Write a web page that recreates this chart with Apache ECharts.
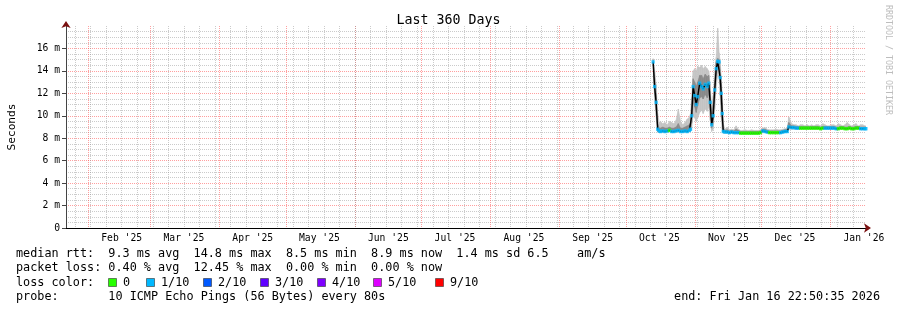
<!DOCTYPE html>
<html>
<head>
<meta charset="utf-8">
<script src="https://cdn.jsdelivr.net/npm/echarts@6/dist/echarts.min.js"></script>
<style>html,body{margin:0;padding:0;background:#fff}#chart{width:897px;height:310px}</style>
</head>
<body>
<div id="chart"></div>
<script>
const MONO = "'DejaVu Sans Mono', monospace";

const rangeStart = '2025-01-21 22:50:35';
const rangeEnd = '2026-01-16 22:50:35';
const firstWeek = '2025-01-26';

const monthStarts = ['2025-02-01', '2025-03-01', '2025-04-01', '2025-05-01', '2025-06-01', '2025-07-01',
  '2025-08-01', '2025-09-01', '2025-10-01', '2025-11-01', '2025-12-01', '2026-01-01'];
const monthMids = ['2025-02-16', '2025-03-16', '2025-04-16', '2025-05-16', '2025-06-16', '2025-07-16',
  '2025-08-16', '2025-09-16', '2025-10-16', '2025-11-16', '2025-12-16', '2026-01-16'];
const monthLabels = ["Feb '25", "Mar '25", "Apr '25", "May '25", "Jun '25", "Jul '25",
  "Aug '25", "Sep '25", "Oct '25", "Nov '25", "Dec '25", "Jan '26"];

// sample times (local)
const times = [
  '2025-10-13 04:00', '2025-10-13 20:00', '2025-10-14 12:00', '2025-10-15 05:00', '2025-10-15 21:00',
  '2025-10-16 12:00', '2025-10-17 12:00', '2025-10-18 12:00', '2025-10-19 12:00', '2025-10-20 12:00',
  '2025-10-21 12:00', '2025-10-22 12:00', '2025-10-23 12:00', '2025-10-24 12:00', '2025-10-25 12:00',
  '2025-10-26 12:00', '2025-10-27 12:00', '2025-10-28 12:00', '2025-10-29 12:00', '2025-10-30 00:00',
  '2025-10-30 12:00', '2025-10-31 04:00', '2025-10-31 21:00', '2025-11-01 13:00', '2025-11-02 05:00',
  '2025-11-03 03:00', '2025-11-04 00:00', '2025-11-04 16:00', '2025-11-05 14:00', '2025-11-06 12:00',
  '2025-11-07 04:00', '2025-11-07 20:00', '2025-11-08 12:00', '2025-11-09 04:00', '2025-11-09 21:00',
  '2025-11-10 13:00', '2025-11-11 05:00', '2025-11-11 21:00', '2025-11-12 08:00', '2025-11-12 19:00',
  '2025-11-13 06:00', '2025-11-13 17:00',
  '2025-11-14 12:00', '2025-11-15 12:00', '2025-11-16 12:00', '2025-11-17 12:00', '2025-11-18 12:00',
  '2025-11-19 12:00', '2025-11-20 12:00', '2025-11-21 12:00', '2025-11-22 12:00', '2025-11-23 12:00',
  '2025-11-24 12:00', '2025-11-25 12:00', '2025-11-26 12:00', '2025-11-27 12:00', '2025-11-28 12:00',
  '2025-11-29 12:00', '2025-11-30 12:00', '2025-12-01 12:00', '2025-12-02 12:00', '2025-12-03 12:00',
  '2025-12-04 12:00', '2025-12-05 12:00', '2025-12-06 12:00', '2025-12-07 12:00', '2025-12-08 12:00',
  '2025-12-09 12:00', '2025-12-10 12:00', '2025-12-11 12:00',
  '2025-12-12 12:00', '2025-12-13 05:00',
  '2025-12-14 12:00', '2025-12-15 12:00', '2025-12-16 12:00', '2025-12-17 12:00', '2025-12-18 12:00',
  '2025-12-19 12:00', '2025-12-20 12:00', '2025-12-21 12:00', '2025-12-22 12:00', '2025-12-23 12:00',
  '2025-12-24 12:00', '2025-12-25 12:00', '2025-12-26 12:00', '2025-12-27 12:00', '2025-12-28 12:00',
  '2025-12-29 12:00', '2025-12-30 12:00', '2025-12-31 12:00', '2026-01-01 12:00', '2026-01-02 12:00',
  '2026-01-03 12:00', '2026-01-04 12:00', '2026-01-05 12:00', '2026-01-06 12:00', '2026-01-07 12:00',
  '2026-01-08 12:00', '2026-01-09 12:00', '2026-01-10 12:00', '2026-01-11 12:00', '2026-01-12 12:00',
  '2026-01-13 12:00', '2026-01-14 12:00', '2026-01-15 12:00', '2026-01-16 12:00', '2026-01-16 22:00'
];

// median rtt in ms
const median = [
  14.8, 12.6, 11.2, 8.8, 8.65,
  8.6, 8.65, 8.6, 8.65, 8.7, 8.6, 8.6, 8.65, 8.7, 8.6, 8.6, 8.65, 8.6, 8.7, 8.8,
  10.0, 12.6, 11.8, 11.0, 11.7, 12.9, 12.6, 12.4, 12.8, 12.6, 12.9, 11.2, 9.2, 10.0, 12.3,
  14.2, 14.85, 14.8, 13.4, 12.0, 10.2, 8.6,
  8.55, 8.55, 8.5, 8.55, 8.5, 8.5, 8.5, 8.45, 8.45, 8.45, 8.45, 8.45, 8.45, 8.45, 8.45,
  8.45, 8.5, 8.65, 8.6, 8.55, 8.5, 8.5, 8.5, 8.5, 8.5, 8.5, 8.55, 8.6,
  8.6, 9.0,
  8.95, 8.95, 8.9, 8.9, 8.9, 8.9, 8.9, 8.9, 8.9, 8.9, 8.9, 8.9, 8.9, 8.85, 8.9,
  8.9, 8.9, 8.9, 8.9, 8.9, 8.85, 8.85, 8.9, 8.9, 8.85, 8.85, 8.9, 8.85, 8.85, 8.9,
  8.9, 8.85, 8.85, 8.85, 8.85
];

// lost pings out of 10, as index into lossLabels
const loss = [
  1, 1, 1, 1, 1,
  1, 1, 1, 1, 0, 1, 1, 1, 1, 1, 1, 1, 1, 1, 1,
  1, 1, 1, 1, 1, 1, 1, 1, 1, 1, 1, 1, 1, 1, 1,
  1, 1, 1, 1, 1, 1, 1,
  1, 1, 1, 1, 1, 1, 1, 0, 0, 0, 0, 0, 0, 0, 0,
  0, 0, 1, 1, 1, 0, 0, 0, 0, 0, 1, 1, 1,
  1, 1,
  1, 1, 1, 1, 0, 0, 0, 0, 0, 0, 0, 0, 0, 0, 0,
  1, 1, 1, 1, 1, 1, 0, 0, 0, 0, 0, 0, 0, 0, 0,
  0, 1, 1, 1, 1
];

// smoke: spread of the 10 pings
const smokeMin = [
  14.2, 11.5, 10.0, 8.55, 8.5,
  8.5, 8.5, 8.5, 8.5, 8.55, 8.5, 8.5, 8.5, 8.55, 8.5, 8.5, 8.5, 8.5, 8.55, 8.6,
  9.0, 10.0, 9.8, 9.5, 9.8, 10.3, 10.5, 10.2, 10.6, 10.4, 10.8, 9.6, 8.6, 8.8, 10.6,
  12.6, 13.6, 13.4, 11.8, 9.9, 8.8, 8.45,
  8.45, 8.45, 8.4, 8.45, 8.4, 8.4, 8.4, 8.35, 8.35, 8.35, 8.35, 8.35, 8.35, 8.35, 8.35,
  8.35, 8.4, 8.5, 8.5, 8.45, 8.4, 8.4, 8.4, 8.4, 8.4, 8.4, 8.45, 8.5,
  8.5, 8.8,
  8.8, 8.8, 8.8, 8.8, 8.8, 8.8, 8.8, 8.8, 8.8, 8.8, 8.8, 8.8, 8.8, 8.75, 8.8,
  8.8, 8.8, 8.8, 8.8, 8.8, 8.75, 8.75, 8.8, 8.8, 8.75, 8.75, 8.8, 8.75, 8.75, 8.8,
  8.8, 8.75, 8.75, 8.75, 8.75
];
const smokeLow = [
  14.5, 12.0, 10.5, 8.6, 8.55,
  8.55, 8.6, 8.55, 8.6, 8.65, 8.55, 8.55, 8.6, 8.65, 8.55, 8.55, 8.6, 8.55, 8.65, 8.7,
  9.4, 11.2, 10.8, 10.3, 10.9, 11.6, 11.7, 11.5, 11.9, 11.6, 11.9, 10.5, 8.9, 9.4, 11.6,
  13.6, 14.4, 14.2, 12.8, 11.0, 9.5, 8.5,
  8.5, 8.5, 8.45, 8.5, 8.45, 8.45, 8.45, 8.4, 8.4, 8.4, 8.4, 8.4, 8.4, 8.4, 8.4,
  8.4, 8.45, 8.6, 8.55, 8.5, 8.45, 8.45, 8.45, 8.45, 8.45, 8.45, 8.5, 8.55,
  8.55, 8.9,
  8.9, 8.9, 8.85, 8.85, 8.85, 8.85, 8.85, 8.85, 8.85, 8.85, 8.85, 8.85, 8.85, 8.8, 8.85,
  8.85, 8.85, 8.85, 8.85, 8.85, 8.8, 8.8, 8.85, 8.85, 8.8, 8.8, 8.85, 8.8, 8.8, 8.85,
  8.85, 8.8, 8.8, 8.8, 8.8
];
const smokeHigh = [
  15.0, 13.3, 12.0, 9.3, 8.9,
  8.9, 9.0, 8.9, 8.9, 9.0, 8.9, 8.9, 9.0, 9.3, 8.9, 8.9, 9.0, 9.1, 9.2, 9.4,
  10.9, 13.3, 13.0, 12.6, 13.0, 13.6, 13.6, 13.3, 13.7, 13.5, 13.6, 12.2, 9.9, 11.0, 13.1,
  14.8, 15.1, 15.0, 14.1, 12.9, 11.1, 8.9,
  8.7, 8.75, 8.65, 8.7, 8.65, 8.8, 8.7, 8.6, 8.6, 8.6, 8.6, 8.6, 8.6, 8.6, 8.6,
  8.6, 8.65, 8.8, 8.8, 8.7, 8.65, 8.65, 8.65, 8.65, 8.65, 8.65, 8.7, 8.75,
  8.8, 9.4,
  9.1, 9.1, 9.05, 9.05, 9.05, 9.05, 9.05, 9.05, 9.05, 9.05, 9.05, 9.05, 9.05, 9.0, 9.05,
  9.05, 9.05, 9.05, 9.05, 9.05, 9.0, 9.0, 9.05, 9.05, 9.0, 9.0, 9.05, 9.0, 9.0, 9.05,
  9.05, 9.0, 9.0, 9.0, 9.0
];
const smokeMax = [
  15.1, 14.0, 12.8, 10.2, 9.4,
  9.5, 9.3, 9.4, 9.2, 9.5, 9.4, 9.3, 9.6, 10.6, 9.5, 9.2, 9.4, 9.7, 9.9, 10.2,
  11.6, 14.0, 14.2, 14.0, 14.4, 14.3, 14.5, 14.2, 14.4, 14.2, 14.0, 12.8, 10.5, 11.8, 13.8,
  15.2, 17.8, 15.6, 14.8, 13.5, 12.0, 9.3,
  8.8, 9.0, 8.75, 8.8, 8.75, 9.1, 8.8, 8.7, 8.7, 8.75, 8.7, 8.7, 8.75, 8.7, 8.7,
  8.7, 8.75, 8.9, 8.95, 8.8, 8.75, 8.75, 8.75, 8.8, 8.75, 8.75, 8.8, 8.85,
  8.9, 9.9,
  9.3, 9.2, 9.2, 9.1, 9.2, 9.2, 9.1, 9.2, 9.1, 9.2, 9.1, 9.2, 9.2, 9.1, 9.3,
  9.2, 9.1, 9.1, 9.2, 9.2, 9.1, 9.3, 9.2, 9.1, 9.2, 9.4, 9.2, 9.1, 9.2, 9.3,
  9.1, 9.2, 9.2, 9.1, 9.1
];

const lossLabels = ['0', '1/10', '2/10', '3/10', '4/10', '5/10', '9/10'];
const lossColors = ['#26ff00', '#00b8ff', '#0059ff', '#5e00ff', '#7e00ff', '#dd00ff', '#ff0000'];

const statLines = [
  'median rtt:  9.3 ms avg  14.8 ms max  8.5 ms min  8.9 ms now  1.4 ms sd 6.5    am/s',
  'packet loss: 0.40 % avg  12.45 % max  0.00 % min  0.00 % now'
];
const probeLine = 'probe:       10 ICMP Echo Pings (56 Bytes) every 80s';
const endLine = 'end: Fri Jan 16 22:50:35 2026';

const parse = s => echarts.time.parse(s).getTime();
const tMin = parse(rangeStart);
const tMax = parse(rangeEnd);
const monthStartTimes = monthStarts.map(parse);
const monthMidTimes = monthMids.map(parse);
const weekTimes = [];
for (let d = echarts.time.parse(firstWeek); d.getTime() < tMax; d = new Date(d.getFullYear(), d.getMonth(), d.getDate() + 7)) {
  weekTimes.push(d.getTime());
}

const xs = times.map(parse);
const pts = arr => xs.map((x, i) => [x, arr[i]]);
// each item spans one sample interval: [x0, lo0, hi0, x1, lo1, hi1]
const band = (lo, hi) => xs.slice(0, -1).map((x, i) => [x, lo[i], hi[i], xs[i + 1], lo[i + 1], hi[i + 1]]);

const bandSeries = (lo, hi, color) => ({
  type: 'custom', silent: true, clip: true, z: 1,
  data: band(lo, hi),
  encode: { x: [0, 3], y: [1, 2, 4, 5] },
  renderItem: (params, api) => ({
    type: 'polygon',
    shape: { points: [
      api.coord([api.value(0), api.value(1)]), api.coord([api.value(0), api.value(2)]),
      api.coord([api.value(3), api.value(5)]), api.coord([api.value(3), api.value(4)])
    ] },
    style: { fill: color, stroke: color, lineWidth: 0.6 }
  })
});

const chart = echarts.init(document.getElementById('chart'), null, { renderer: 'canvas' });

const majorGrid = { color: 'rgba(255,80,80,0.55)', type: [1, 1], width: 1 };
const minorGrid = { color: 'rgba(140,140,140,0.45)', type: [1, 1], width: 1 };

const legendX = [108, 146, 203, 260, 317, 373, 435];
const graphic = [
  { type: 'text', x: 16, y: 254, style: { text: statLines[0], fontFamily: MONO, fontSize: 11.8, fill: '#000', verticalAlign: 'middle' } },
  { type: 'text', x: 16, y: 268, style: { text: statLines[1], fontFamily: MONO, fontSize: 11.8, fill: '#000', verticalAlign: 'middle' } },
  { type: 'text', x: 16, y: 282.5, style: { text: 'loss color:', fontFamily: MONO, fontSize: 11.8, fill: '#000', verticalAlign: 'middle' } },
  { type: 'text', x: 16, y: 296.5, style: { text: probeLine, fontFamily: MONO, fontSize: 11.8, fill: '#000', verticalAlign: 'middle' } },
  { type: 'text', x: 880, y: 296.5, style: { text: endLine, fontFamily: MONO, fontSize: 11.8, fill: '#000', align: 'right', verticalAlign: 'middle' } },
  { type: 'text', x: 888, y: 60, rotation: -Math.PI / 2, style: { text: 'RRDTOOL / TOBI OETIKER', fontFamily: MONO, fontSize: 8.3, fill: '#bdbdbd', align: 'center', verticalAlign: 'middle' } }
];
lossLabels.forEach((label, i) => {
  graphic.push({ type: 'rect', shape: { x: legendX[i] + 0.5, y: 278.5, width: 8, height: 8 }, style: { fill: lossColors[i], stroke: '#333', lineWidth: 0.6 } });
  graphic.push({ type: 'text', x: legendX[i] + 15, y: 282.5, style: { text: label, fontFamily: MONO, fontSize: 11.8, fill: '#000', verticalAlign: 'middle' } });
});

chart.setOption({
  backgroundColor: '#fff',
  animation: false,
  title: { text: 'Last 360 Days', left: 'center', top: 9, textStyle: { fontFamily: MONO, fontSize: 13.3, fontWeight: 'normal', color: '#000' } },
  grid: { left: 66, right: 31, top: 26, bottom: 82, outerBoundsMode: 'none' },
  xAxis: [
    {
      type: 'value', min: tMin, max: tMax, position: 'bottom',
      axisLine: { lineStyle: { color: '#000', width: 1 } },
      axisTick: { show: false, customValues: monthStartTimes },
      splitLine: { show: true, lineStyle: majorGrid },
      axisLabel: {
        customValues: monthMidTimes, formatter: v => monthLabels[monthMidTimes.indexOf(v)],
        fontFamily: MONO, fontSize: 9.7, color: '#000', margin: 5, hideOverlap: false
      }
    },
    {
      type: 'value', min: tMin, max: tMax, position: 'bottom',
      axisLine: { show: false }, axisLabel: { show: false },
      axisTick: { show: false, customValues: weekTimes },
      splitLine: { show: true, lineStyle: minorGrid }
    },
    {
      type: 'value', min: tMin, max: tMax, position: 'bottom',
      axisLine: { show: true, symbol: ['none', 'arrow'], symbolSize: [7, 7], symbolOffset: [0, 5], lineStyle: { color: '#7a1010', width: 0 } },
      axisLabel: { show: false }, axisTick: { show: false }, splitLine: { show: false }
    }
  ],
  yAxis: [
    {
      type: 'value', min: 0, max: 18, interval: 2,
      name: 'Seconds', nameLocation: 'middle', nameGap: 48,
      nameTextStyle: { fontFamily: MONO, fontSize: 11.2, color: '#000' },
      axisLine: { show: true, lineStyle: { color: '#444', width: 1 } },
      axisTick: { show: true, length: 4, lineStyle: { color: '#444' } },
      axisLabel: { fontFamily: MONO, fontSize: 9.7, color: '#000', margin: 6, showMaxLabel: false, formatter: v => v === 0 ? '0' : v + ' m' },
      splitLine: { show: true, showMinLine: false, showMaxLine: false, lineStyle: majorGrid },
      minorTick: { show: false, splitNumber: 4 },
      minorSplitLine: { show: true, lineStyle: minorGrid }
    },
    {
      type: 'value', min: 0, max: 18, position: 'left',
      axisLine: { show: true, symbol: ['none', 'arrow'], symbolSize: [7, 7], symbolOffset: [0, 5], lineStyle: { color: '#7a1010', width: 0 } },
      axisLabel: { show: false }, axisTick: { show: false }, splitLine: { show: false }
    }
  ],
  graphic,
  series: [
    bandSeries(smokeMin, smokeMax, '#c4c4c4'),
    bandSeries(smokeLow, smokeHigh, '#8a8a8a'),
    { type: 'line', z: 2, data: pts(median), symbol: 'none', silent: true, lineStyle: { color: '#000', width: 1.4 } },
    {
      type: 'scatter', z: 3, symbol: 'rect', symbolSize: [3.2, 3.4], silent: true,
      data: xs.map((x, i) => ({ value: [x, median[i]], itemStyle: { color: lossColors[loss[i]] } }))
    }
  ]
});
</script>
</body>
</html>
